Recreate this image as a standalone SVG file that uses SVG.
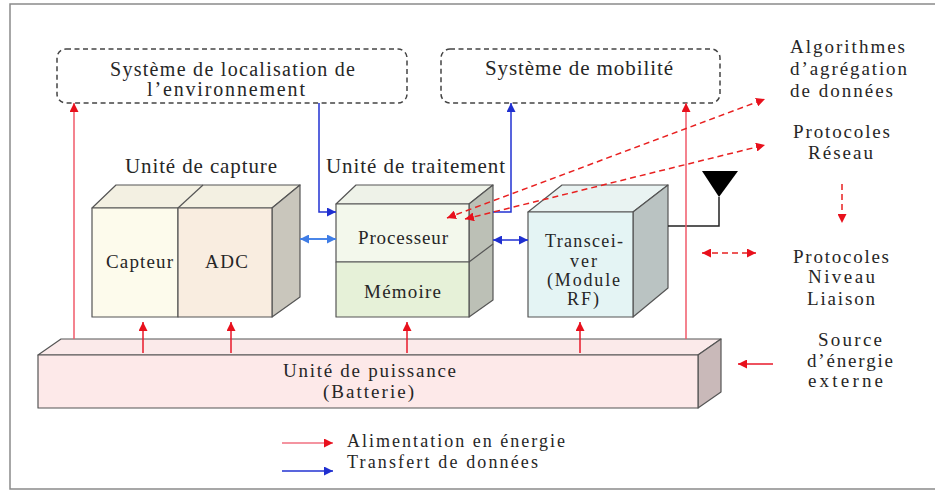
<svg xmlns="http://www.w3.org/2000/svg" width="935" height="492" viewBox="0 0 935 492">
  <defs>
    <style>
      text { font-family: "Liberation Serif", "Times New Roman", serif; fill: #262626; }
      .t21 { font-size: 21px; }
      .t20 { font-size: 20px; }
      .t19 { font-size: 19px; }
      .t18 { font-size: 18px; }
      .edge { stroke: #555; stroke-width: 1.2; stroke-linejoin: round; }
      .sys { fill: #fff; stroke: #444; stroke-width: 1.5; stroke-dasharray: 5 3.5; }
      .pw { stroke: #e8182a; stroke-width: 1.5; fill: none; }
      .pwl { stroke: #f05a6a; stroke-width: 1.5; fill: none; }
      .dt { stroke: #2232d2; stroke-width: 1.5; fill: none; }
      .dtl { stroke: #4a86e8; stroke-width: 2; fill: none; }
      .proto { stroke: #e82020; stroke-width: 1.5; stroke-dasharray: 6 4; fill: none; }
    </style>
    <marker id="arRed" markerUnits="userSpaceOnUse" markerWidth="10" markerHeight="9" refX="9" refY="4.5" orient="auto-start-reverse">
      <path d="M0,0 L9,4.5 L0,9 z" fill="#e8101c"/>
    </marker>
    <marker id="arBlue" markerUnits="userSpaceOnUse" markerWidth="10" markerHeight="9" refX="9" refY="4.5" orient="auto-start-reverse">
      <path d="M0,0 L9,4.5 L0,9 z" fill="#1f2fd0"/>
    </marker>
    <marker id="arLightBlue" markerUnits="userSpaceOnUse" markerWidth="10" markerHeight="9" refX="9" refY="4.5" orient="auto-start-reverse">
      <path d="M0,0 L9,4.5 L0,9 z" fill="#3f7de6"/>
    </marker>
  </defs>

  <rect width="935" height="492" fill="#fff"/>
  <!-- outer frame -->
  <rect x="10" y="4" width="940" height="485" fill="none" stroke="#8a8a8a" stroke-width="1.5"/>

  <!-- auxiliary systems -->
  <g id="localisation">
    <rect class="sys" x="57" y="49" width="350" height="54" rx="9"/>
    <text class="t20" x="110" y="76" textLength="245" lengthAdjust="spacing">Système de localisation de</text>
    <text class="t20" x="147" y="96" textLength="158" lengthAdjust="spacing">l’environnement</text>
  </g>
  <g id="mobilite">
    <rect class="sys" x="441" y="49" width="279" height="54" rx="9"/>
    <text class="t21" x="485" y="75" textLength="188" lengthAdjust="spacing">Système de mobilité</text>
  </g>

  <!-- sensing unit -->
  <g id="capture">
    <text class="t21" x="125" y="173" textLength="152" lengthAdjust="spacing">Unité de capture</text>
    <polygon class="edge" points="92,208 116,185 300,185 272,208" fill="#f3f0e2"/>
    <line class="edge" x1="178" y1="208" x2="203" y2="185"/>
    <polygon class="edge" points="272,208 300,185 300,297 272,317" fill="#c9c6bc"/>
    <rect class="edge" x="92" y="208" width="86" height="109" fill="#fdfbec"/>
    <rect class="edge" x="178" y="208" width="94" height="109" fill="#f9ede0"/>
    <text class="t19" x="106" y="268" textLength="67" lengthAdjust="spacing">Capteur</text>
    <text class="t19" x="205" y="268" textLength="43" lengthAdjust="spacing">ADC</text>
  </g>

  <!-- processing unit -->
  <g id="traitement">
    <text class="t21" x="326" y="173" textLength="179" lengthAdjust="spacing">Unité de traitement</text>
    <polygon class="edge" points="336,204 356,185 493,185 469,204" fill="#eef2e8"/>
    <polygon class="edge" points="469,204 493,185 493,300 469,317" fill="#bcc0b6"/>
    <line class="edge" x1="469" y1="262" x2="493" y2="244"/>
    <rect class="edge" x="336" y="204" width="133" height="58" fill="#f3f8ec"/>
    <rect class="edge" x="336" y="262" width="133" height="55" fill="#e6f1d8"/>
    <text class="t19" x="358" y="244" textLength="90" lengthAdjust="spacing">Processeur</text>
    <text class="t19" x="364" y="298" textLength="77" lengthAdjust="spacing">Mémoire</text>
  </g>

  <!-- radio unit -->
  <g id="transceiver">
    <polygon class="edge" points="528,212 562,185 668,185 633,212" fill="#e9f3f2"/>
    <polygon class="edge" points="633,212 668,185 668,288 633,317" fill="#bac3c2"/>
    <rect class="edge" x="528" y="212" width="105" height="105" fill="#e4f4f4"/>
    <text class="t18" x="545" y="247" textLength="78" lengthAdjust="spacing">Transcei-</text>
    <text class="t18" x="570" y="267" textLength="27" lengthAdjust="spacing">ver</text>
    <text class="t18" x="547" y="286" textLength="73" lengthAdjust="spacing">(Module</text>
    <text class="t18" x="567" y="305" textLength="32" lengthAdjust="spacing">RF)</text>
  </g>

  <!-- antenna -->
  <g id="antenne">
    <polyline points="719,197 719,226 668,226" fill="none" stroke="#222" stroke-width="1.5"/>
    <polygon points="702,171 738,171 719,197" fill="#000"/>
  </g>

  <!-- power unit -->
  <g id="puissance">
    <polygon class="edge" points="38,355 61,339 721,339 698,355" fill="#fbeaea"/>
    <polygon class="edge" points="698,355 721,339 721,392 698,408" fill="#c9b9b9"/>
    <rect class="edge" x="38" y="355" width="660" height="53" fill="#fde9e9"/>
    <text class="t19" x="283" y="377" textLength="173" lengthAdjust="spacing">Unité de puissance</text>
    <text class="t19" x="323" y="398" textLength="91" lengthAdjust="spacing">(Batterie)</text>
  </g>

  <!-- side annotations -->
  <g id="agregation">
    <text class="t19" x="790" y="53" textLength="115" lengthAdjust="spacing">Algorithmes</text>
    <text class="t19" x="790" y="75" textLength="117" lengthAdjust="spacing">d’agrégation</text>
    <text class="t19" x="790" y="97" textLength="103" lengthAdjust="spacing">de données</text>
  </g>
  <g id="reseau">
    <text class="t19" x="793" y="138" textLength="97" lengthAdjust="spacing">Protocoles</text>
    <text class="t19" x="808" y="159" textLength="65" lengthAdjust="spacing">Réseau</text>
  </g>
  <g id="liaison">
    <text class="t19" x="793" y="263" textLength="96" lengthAdjust="spacing">Protocoles</text>
    <text class="t19" x="808" y="283" textLength="67" lengthAdjust="spacing">Niveau</text>
    <text class="t19" x="807" y="305" textLength="68" lengthAdjust="spacing">Liaison</text>
  </g>
  <g id="source">
    <text class="t19" x="818" y="346" textLength="64" lengthAdjust="spacing">Source</text>
    <text class="t19" x="807" y="367" textLength="86" lengthAdjust="spacing">d’énergie</text>
    <text class="t19" x="808" y="387" textLength="75" lengthAdjust="spacing">externe</text>
  </g>

  <!-- legend -->
  <g id="legende">
    <line x1="282" y1="443" x2="333" y2="443" stroke="#f07080" stroke-width="1.5" marker-end="url(#arRed)"/>
    <line x1="282" y1="471" x2="333" y2="471" class="dt" marker-end="url(#arBlue)"/>
    <text class="t18" x="347" y="447" textLength="218" lengthAdjust="spacing">Alimentation en énergie</text>
    <text class="t18" x="347" y="468" textLength="191" lengthAdjust="spacing">Transfert de données</text>
  </g>

  <!-- connectors -->
  <g id="connecteurs">
    <!-- power feeds -->
    <line class="pwl" x1="74" y1="339" x2="74" y2="103" marker-end="url(#arRed)"/>
    <line class="pwl" x1="686" y1="339" x2="686" y2="103" marker-end="url(#arRed)"/>
    <line class="pw" x1="143" y1="353" x2="143" y2="322" marker-end="url(#arRed)"/>
    <line class="pw" x1="231" y1="353" x2="231" y2="322" marker-end="url(#arRed)"/>
    <line class="pw" x1="407" y1="353" x2="407" y2="322" marker-end="url(#arRed)"/>
    <line class="pw" x1="580" y1="353" x2="580" y2="322" marker-end="url(#arRed)"/>
    <line class="pw" x1="773" y1="364" x2="738" y2="364" marker-end="url(#arRed)"/>

    <!-- data paths -->
    <polyline class="dt" points="319,103 319,212 336,212" marker-end="url(#arBlue)"/>
    <polyline class="dt" points="493,212 511,212 511,103" marker-end="url(#arBlue)"/>
    <line class="dtl" x1="300" y1="239" x2="336" y2="239" marker-start="url(#arLightBlue)" marker-end="url(#arLightBlue)"/>
    <line class="dt" x1="493" y1="240" x2="528" y2="240" marker-start="url(#arBlue)" marker-end="url(#arBlue)"/>

    <!-- protocol layers -->
    <line class="proto" x1="447" y1="218" x2="765" y2="99" marker-start="url(#arRed)" marker-end="url(#arRed)"/>
    <line class="proto" x1="465" y1="219" x2="765" y2="145" marker-start="url(#arRed)" marker-end="url(#arRed)"/>
    <line class="proto" x1="842" y1="184" x2="842" y2="223" marker-end="url(#arRed)"/>
    <line class="proto" x1="702" y1="253" x2="756" y2="253" marker-start="url(#arRed)" marker-end="url(#arRed)"/>
  </g>
</svg>
